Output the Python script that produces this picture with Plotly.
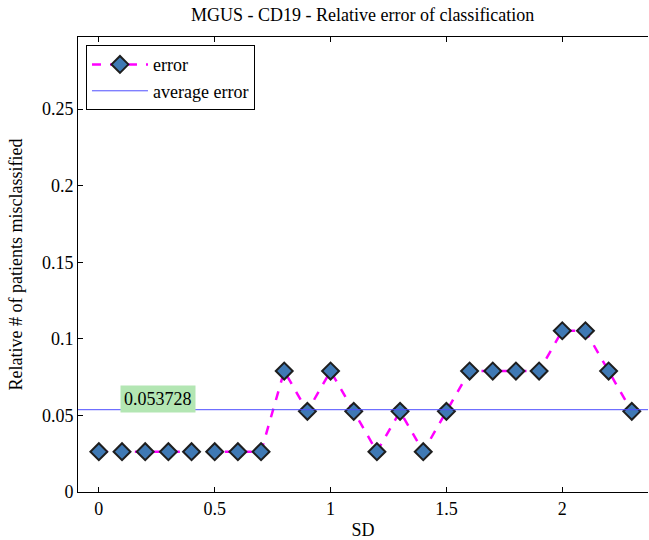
import numpy as np
import plotly.graph_objects as go

sd = [0.0, 0.1, 0.2, 0.3, 0.4, 0.5, 0.6, 0.7, 0.8, 0.9, 1.0, 1.1, 1.2, 1.3, 1.4, 1.5,
      1.6, 1.7, 1.8, 1.9, 2.0, 2.1, 2.2, 2.3]
misclassified = [1, 1, 1, 1, 1, 1, 1, 1, 3, 2, 3, 2, 1, 2, 1, 2, 3, 3, 3, 3, 4, 4, 3, 2]
n_patients = 38
error = [m / n_patients for m in misclassified]
avg_error = float(np.mean(error))

x_range = [-0.09, 2.37]
y_range = [0, 0.297]
x_ticks = [0, 0.5, 1, 1.5, 2]
y_ticks = [0, 0.05, 0.1, 0.15, 0.2, 0.25]

FONT = "Liberation Serif, Times New Roman, serif"

fig = go.Figure()
fig.add_trace(go.Scatter(
    x=sd, y=error, name="error", mode="lines+markers",
    line=dict(color="#ff00ff", width=2.5, dash="dash"),
    marker=dict(symbol="diamond", size=13, color="#3f79b4",
                line=dict(color="#1e1e1e", width=2)),
))
fig.add_trace(go.Scatter(
    x=x_range, y=[avg_error, avg_error], name="average error", mode="lines",
    line=dict(color="#4e4eff", width=1),
))

fig.add_annotation(
    x=0.09, y=avg_error, xref="x", yref="y", xanchor="left", yanchor="bottom",
    text=f"{avg_error:.6f}", showarrow=False, yshift=-3,
    bgcolor="#b3e6b3", borderpad=3,
    font=dict(family=FONT, size=18, color="black"),
)

fig.update_layout(
    width=649, height=540,
    margin=dict(l=78, r=1, t=37, b=48),
    paper_bgcolor="white", plot_bgcolor="white",
    font=dict(family=FONT, size=18, color="black"),
    title=dict(text="MGUS - CD19 - Relative error of classification",
               x=0.5588, xanchor="center", y=0.972, yanchor="middle",
               font=dict(family=FONT, size=18, color="black")),
    showlegend=True,
    legend=dict(x=0.014, y=0.982, xanchor="left", yanchor="top",
                bgcolor="white", bordercolor="black", borderwidth=1,
                font=dict(family=FONT, size=18, color="black"),
                itemwidth=56, tracegroupgap=0),
    xaxis=dict(range=x_range, tickvals=x_ticks, ticktext=[f"{t:g}" for t in x_ticks],
               showgrid=False, zeroline=False, showline=True, linecolor="black",
               linewidth=1, mirror="ticks", ticks="inside", ticklen=5,
               tickcolor="black", tickfont=dict(family=FONT, size=18),
               title=dict(text="SD", font=dict(family=FONT, size=18), standoff=6)),
    yaxis=dict(range=y_range, tickvals=y_ticks, ticktext=[f"{t:g}" for t in y_ticks],
               showgrid=False, zeroline=False, showline=True, linecolor="black",
               linewidth=1, mirror=False, ticks="inside", ticklen=5,
               tickcolor="black", tickfont=dict(family=FONT, size=18),
               title=dict(text="Relative # of patients misclassified",
                          font=dict(family=FONT, size=18), standoff=14)),
)

fig.write_html("out.html")
